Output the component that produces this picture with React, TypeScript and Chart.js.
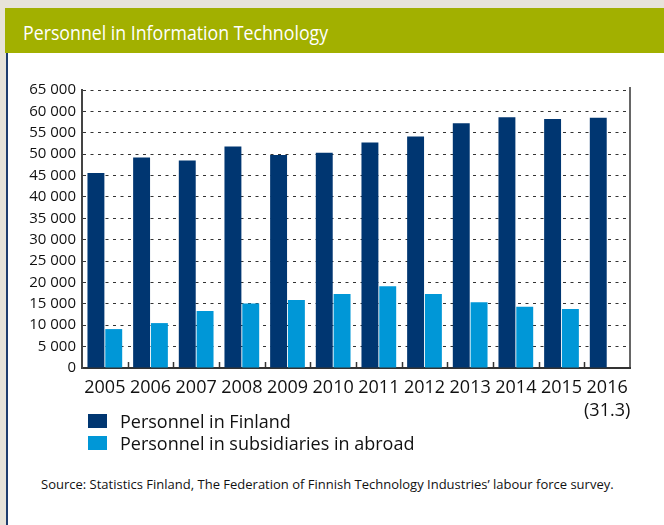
import React, { useEffect, useRef } from "react";
import { Chart, registerables } from "chart.js";

Chart.register(...registerables);

const chartTitle = "Personnel in Information Technology";
const years: (string | string[])[] = [
  "2005", "2006", "2007", "2008", "2009", "2010",
  "2011", "2012", "2013", "2014", "2015", ["2016", "(31.3)"],
];
const seriesNames = ["Personnel in Finland", "Personnel in subsidiaries in abroad"];
const personnelFinland = [45600, 49200, 48500, 51800, 49800, 50300, 52700, 54100, 57200, 58600, 58200, 58500];
const personnelAbroad: (number | null)[] = [9100, 10500, 13300, 15100, 15900, 17300, 19100, 17300, 15400, 14300, 13800, null];
const yMin = 0;
const yMax = 65000;
const yStep = 5000;
const sourceText =
  "Source: Statistics Finland, The Federation of Finnish Technology Industries\u2019 labour force survey.";

const DARK = "#003671";
const LIGHT = "#0097d7";
const FONT = "'Open Sans', 'Noto Sans', sans-serif";

const fmt = (v: number) => {
  const s = Math.round(v).toString();
  return s.replace(/\B(?=(\d{3})+(?!\d))/g, " ");
};

const framePlugin = {
  id: "framePlugin",
  afterDraw(chart: any) {
    const { ctx, chartArea } = chart;
    const xs = chart.scales.x;
    ctx.save();
    ctx.strokeStyle = "#333";
    ctx.lineWidth = 1.5;
    ctx.beginPath();
    ctx.moveTo(chartArea.right, chartArea.top - 3);
    ctx.lineTo(chartArea.right, chartArea.bottom);
    ctx.stroke();
    const n = years.length;
    const w = (chartArea.right - chartArea.left) / n;
    for (let i = 1; i < n; i++) {
      const x = Math.round(xs.left + i * w) + 0.5;
      ctx.beginPath();
      ctx.moveTo(x, chartArea.bottom);
      ctx.lineTo(x, chartArea.bottom - 6);
      ctx.stroke();
    }
    ctx.restore();
  },
};

function ChartCanvas() {
  const ref = useRef<HTMLCanvasElement | null>(null);
  useEffect(() => {
    if (!ref.current) return;
    const chart = new Chart(ref.current, {
      type: "bar",
      data: {
        labels: years as any,
        datasets: [
          {
            label: seriesNames[0],
            data: personnelFinland,
            backgroundColor: DARK,
            categoryPercentage: 0.78,
            barPercentage: 0.95,
          },
          {
            label: seriesNames[1],
            data: personnelAbroad as any,
            backgroundColor: LIGHT,
            categoryPercentage: 0.78,
            barPercentage: 0.95,
          },
        ],
      },
      options: {
        animation: false,
        responsive: false,
        maintainAspectRatio: false,
        devicePixelRatio: 1,
        layout: { padding: { top: 30, right: 34, bottom: 0, left: 0 } },
        plugins: {
          legend: { display: false },
          tooltip: { enabled: false },
          title: { display: false },
        },
        scales: {
          x: {
            grid: { display: false, drawTicks: false },
            border: { display: true, color: "#333", width: 2 },
            ticks: {
              color: "#111",
              font: { family: FONT, size: 18, lineHeight: 1.25 },
              padding: 9,
              maxRotation: 0,
              autoSkip: false,
            },
            afterFit: (s: any) => {
              s.height = 54;
            },
          },
          y: {
            min: yMin,
            max: yMax,
            grid: {
              color: (c: any) => (c.tick && c.tick.value === 0 ? "rgba(0,0,0,0)" : "#333"),
              lineWidth: 1,
              drawTicks: false,
            },
            border: { display: true, color: "#444", width: 2, dash: [3, 4.5] },
            ticks: {
              stepSize: yStep,
              color: "#111",
              font: { family: FONT, size: 15 },
              padding: 6,
              callback: (v: any) => fmt(Number(v)),
            },
            afterFit: (s: any) => {
              s.width = 82;
            },
          },
        },
      },
      plugins: [framePlugin],
    });
    return () => chart.destroy();
  }, []);
  return (
    <canvas
      ref={ref}
      width={664}
      height={362}
      style={{ position: "absolute", left: 0, top: 60, width: 664, height: 362 }}
    />
  );
}

export default function App() {
  return (
    <div
      style={{
        position: "fixed",
        left: 0,
        top: 0,
        width: 664,
        height: 525,
        background: "#e7e3d9",
        overflow: "hidden",
        fontFamily: FONT,
      }}
    >
      <div
        style={{
          position: "absolute",
          left: 5,
          top: 8,
          width: 659,
          height: 45,
          background: "#a2b000",
        }}
      />
      <div
        style={{
          position: "absolute",
          left: 23,
          top: 10,
          height: 45,
          lineHeight: "45px",
          color: "#fff",
          fontSize: 20,
          whiteSpace: "nowrap",
          transform: "scaleX(0.887)",
          transformOrigin: "left center",
        }}
      >
        {chartTitle}
      </div>
      <div
        style={{
          position: "absolute",
          left: 6,
          top: 53,
          width: 658,
          height: 472,
          background: "#fff",
          borderLeft: "2px solid #1f3d6e",
          boxSizing: "border-box",
        }}
      />
      <ChartCanvas />
      {seriesNames.map((name, i) => (
        <div
          key={name}
          style={{
            position: "absolute",
            left: 88,
            top: 412 + i * 22,
            height: 18,
            display: "flex",
            alignItems: "center",
            whiteSpace: "nowrap",
          }}
        >
          <span
            style={{
              display: "inline-block",
              width: 19,
              height: 14,
              background: i === 0 ? DARK : LIGHT,
              marginRight: 13,
            }}
          />
          <span style={{ fontSize: 18, color: "#111", lineHeight: "18px" }}>{name}</span>
        </div>
      ))}
      <div
        style={{
          position: "absolute",
          left: 41,
          top: 475,
          fontSize: 13,
          color: "#111",
          whiteSpace: "nowrap",
          lineHeight: "18px",
        }}
      >
        {sourceText}
      </div>
    </div>
  );
}
